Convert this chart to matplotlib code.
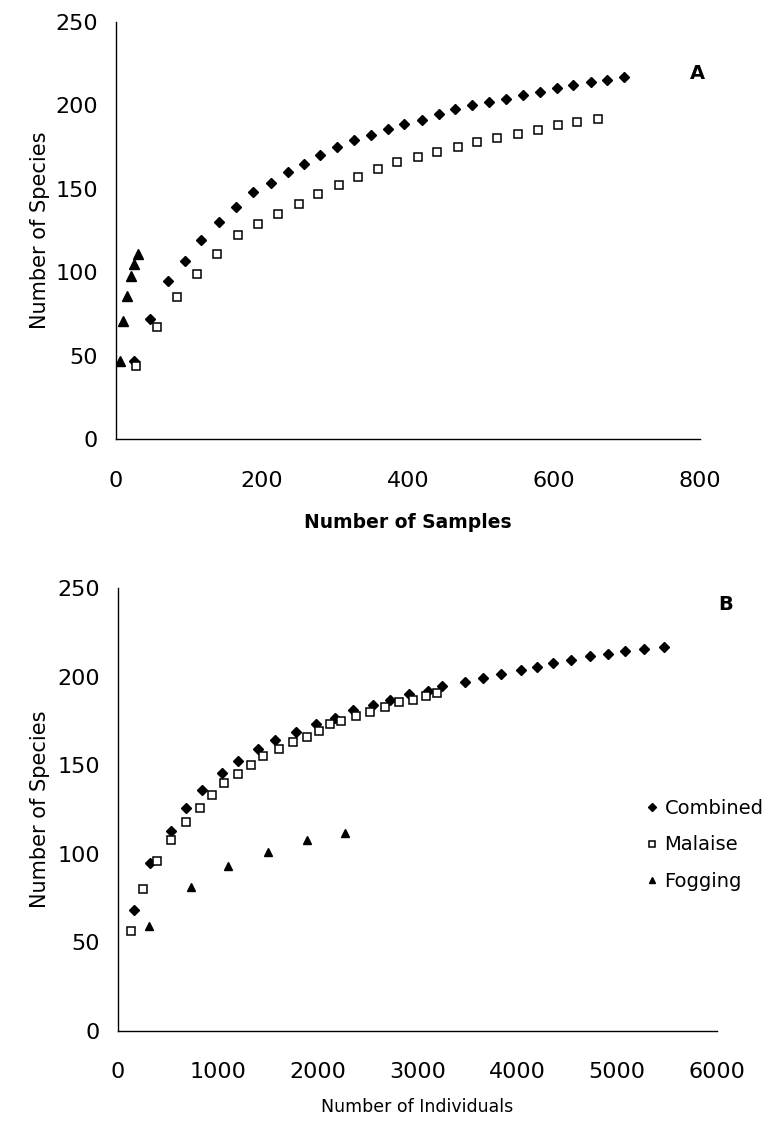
import matplotlib.pyplot as plt

# Panel A: species vs number of samples
a_comb_x = [25, 47, 71, 94, 117, 141, 165, 188, 212, 235, 257, 280, 303, 326, 349, 372,
            395, 419, 442, 465, 488, 511, 534, 557, 581, 604, 626, 650, 673, 696]
a_comb_y = [47, 72, 95, 107, 119, 130, 139, 148, 153.5, 160, 165, 170, 175, 179, 182, 186,
            189, 191, 195, 198, 200, 202, 204, 206, 208, 210.5, 212, 214, 215, 217]
a_mal_x = [28, 56, 84, 111, 139, 167, 194, 222, 250, 277, 305, 332, 359, 385,
           413, 440, 468, 495, 522, 550, 578, 605, 632, 660]
a_mal_y = [44, 67, 85, 99, 111, 122, 129, 135, 141, 147, 152, 157, 162, 166,
           169, 172, 175, 178, 180.5, 183, 185.5, 188, 190, 192]
a_fog_x = [5, 10, 15, 20, 25, 30]
a_fog_y = [47, 71, 86, 98, 105, 111]

# Panel B: species vs number of individuals
b_comb_x = [163, 320, 527, 680, 844, 1038, 1205, 1398, 1575, 1782, 1978, 2172, 2356, 2549,
            2723, 2913, 3106, 3250, 3473, 3656, 3840, 4034, 4201, 4357, 4541, 4731, 4908,
            5081, 5268, 5467]
b_comb_y = [68, 95, 113, 126, 136, 145.6, 152.5, 159, 164, 168.5, 173, 176.5, 181, 184,
            187, 190, 192, 194.5, 196.8, 199.3, 201.5, 203.6, 205.3, 207.7, 209.6, 211.5,
            212.8, 214.3, 215.6, 216.8]
b_mal_x = [130, 254, 393, 527, 677, 820, 941, 1064, 1198, 1331, 1455, 1608, 1755, 1892,
           2012, 2128, 2238, 2388, 2522, 2673, 2813, 2956, 3083, 3196]
b_mal_y = [56.7, 80, 96, 108, 117.7, 125.8, 133, 140, 145, 150, 155, 159, 163, 166,
           169.5, 173, 175, 178, 180, 183, 185.5, 187, 189, 191]
b_fog_x = [313, 728, 1104, 1499, 1888, 2272]
b_fog_y = [59.5, 81, 93, 101, 107.5, 112]

plt.rcParams['font.family'] = ['DejaVu Sans']

fig = plt.figure(figsize=(7.74, 11.21), dpi=100)
axA = fig.add_axes([0.1499, 0.6084, 0.7545, 0.372])
axB = fig.add_axes([0.1525, 0.0803, 0.7739, 0.3952])

for ax in (axA, axB):
    for s in ('top', 'right'):
        ax.spines[s].set_visible(False)
    ax.spines['left'].set_linewidth(1.0)
    ax.spines['bottom'].set_linewidth(1.0)
    ax.set_ylim(0, 250)
    ax.set_yticks([0, 50, 100, 150, 200, 250])
    ax.tick_params(length=0, labelsize=16, pad=13)

axA.tick_params(axis='x', pad=23)
axB.tick_params(axis='x', pad=22)

axA.plot(a_comb_x, a_comb_y, 'D', color='black', ms=5, ls='none')
axA.plot(a_mal_x, a_mal_y, 's', mfc='white', mec='black', mew=1.1, ms=5.5, ls='none')
axA.plot(a_fog_x, a_fog_y, '^', color='black', ms=6.5, ls='none')
axA.set_xlim(0, 800)
axA.set_xticks([0, 200, 400, 600, 800])
axA.set_ylabel('Number of Species', fontsize=15, labelpad=4)
axA.set_xlabel('Number of Samples', fontsize=13.5, fontweight='bold', labelpad=16)
axA.text(796, 219, 'A', fontsize=14, fontweight='bold', ha='center', va='center')

axB.plot(b_comb_x, b_comb_y, 'D', color='black', ms=5, ls='none', label='Combined')
axB.plot(b_mal_x, b_mal_y, 's', mfc='white', mec='black', mew=1.1, ms=5.5, ls='none', label='Malaise')
axB.plot(b_fog_x, b_fog_y, '^', color='black', ms=6, ls='none', label='Fogging')
axB.set_xlim(0, 6000)
axB.set_xticks([0, 1000, 2000, 3000, 4000, 5000, 6000])
axB.set_ylabel('Number of Species', fontsize=15, labelpad=5)
axB.set_xlabel('Number of Individuals', fontsize=12.5, labelpad=12)
axB.text(6083, 240.5, 'B', fontsize=14, fontweight='bold', ha='center', va='center')
axB.legend(loc='center left', bbox_to_anchor=(0.875, 0.42), frameon=False, fontsize=14,
           handletextpad=0.15, handlelength=1.0, labelspacing=0.9, markerscale=0.8,
           borderaxespad=0, borderpad=0)

fig.savefig('out.png', dpi=100)
